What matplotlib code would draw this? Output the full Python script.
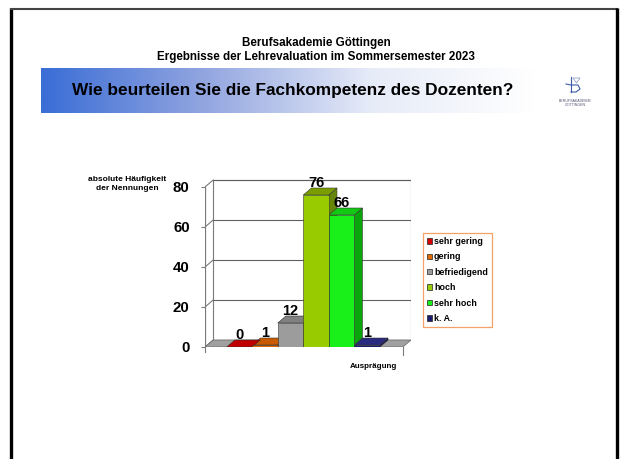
import matplotlib
matplotlib.use("Agg")
import matplotlib.pyplot as plt
from matplotlib.patches import Polygon, Rectangle
from matplotlib.colors import LinearSegmentedColormap
import numpy as np

plt.rcParams['font.family'] = ['Liberation Sans', 'DejaVu Sans']

# ---------------------------------------------------------
# Data
# ---------------------------------------------------------
categories = ["sehr gering", "gering", "befriedigend", "hoch", "sehr hoch", "k. A."]
counts = [0, 1, 12, 76, 66, 1]
y_ticks = [0, 20, 40, 60, 80]

front_colors = ["#d40000", "#e06a00", "#9c9c9c", "#99cc00", "#19f019", "#1c1c6e"]
top_colors = ["#c00000", "#c85a00", "#808080", "#7a9e00", "#12c812", "#2a2a80"]
side_colors = ["#990000", "#a04800", "#6a6a6a", "#66860a", "#0aa50a", "#10104a"]

header1 = "Berufsakademie Göttingen"
header2 = "Ergebnisse der Lehrevaluation im Sommersemester 2023"
question = "Wie beurteilen Sie die Fachkompetenz des Dozenten?"
y_label = "absolute Häufigkeit\nder Nennungen"
x_label = "Ausprägung"

W, H = 621, 459
fig = plt.figure(figsize=(W / 100, H / 100), dpi=100)
fig.patch.set_facecolor("white")

def fx(px):
    return px / W

def fy(py):
    return 1 - py / H

# ---------------------------------------------------------
# Page decoration (border, banner, logo) in pixel coordinates
# ---------------------------------------------------------
bg = fig.add_axes([0, 0, 1, 1])
bg.set_xlim(0, W)
bg.set_ylim(H, 0)
bg.axis("off")

bg.plot([11, 11], [8, H], color="black", lw=2.4, solid_capstyle="butt")
bg.plot([11, 617], [8.5, 8.5], color="#444444", lw=1.5)
bg.plot([617, 617], [8, H], color="black", lw=2.4, solid_capstyle="butt")

grad = LinearSegmentedColormap.from_list("banner", ["#3a6dd6", "#93a6e0", "#e6ebf8", "#ffffff"])
bg.imshow(np.linspace(0, 1, 256).reshape(1, -1), cmap=grad, aspect="auto",
          extent=(41, 535, 113, 68), zorder=1)

bg.text(316, 43, header1, ha="center", va="center", fontsize=8.4, fontweight="bold")
bg.text(316, 57, header2, ha="center", va="center", fontsize=8.4, fontweight="bold")
bg.text(293, 91, question, ha="center", va="center", fontsize=12.4, fontweight="bold", zorder=3)

# small logo
logo_c = "#3a5aa8"
bg.plot([571, 571], [77, 92], color=logo_c, lw=0.8)
bg.plot([566, 571, 578, 580, 576, 571], [84, 85, 85, 89, 92, 92], color=logo_c, lw=0.8)
bg.add_patch(Polygon([[573, 78], [580, 78], [576.5, 83]], closed=True, fill=False,
                     edgecolor="#8090c0", lw=0.5))
bg.text(575, 100.5, "BERUFSAKADEMIE", ha="center", va="center", fontsize=2.6, color="#555577")
bg.text(575, 105.5, "GÖTTINGEN", ha="center", va="center", fontsize=2.6, color="#555577")

# ---------------------------------------------------------
# Chart (pseudo 3D column chart)
# ---------------------------------------------------------
x0, x1 = -1.35, 6.4      # floor front extent
dx, dy = 0.32, 3.5       # depth offset
ax = fig.add_axes([fx(205), fy(347), fx(411) - fx(205), (347 - 179) / H])
ax.set_xlim(x0, x1 + dx)
ax.set_ylim(0, 84)
ax.patch.set_visible(False)
for s in ax.spines.values():
    s.set_visible(False)

wall_c = "#7a7a7a"
grid_c = "#606060"
# back wall
ax.add_patch(Rectangle((x0 + dx, dy), x1 - x0, 80, facecolor="white",
                       edgecolor=wall_c, lw=0.8, zorder=0))
for v in y_ticks[1:]:
    ax.plot([x0 + dx, x1 + dx], [v + dy, v + dy], color=grid_c, lw=0.8, zorder=0.5)
for v in y_ticks:
    ax.plot([x0, x0 + dx], [v, v + dy], color=wall_c, lw=0.8, zorder=0.5)
ax.plot([x0, x0], [0, 80], color=wall_c, lw=0.9, zorder=0.5)

# floor
ax.add_patch(Polygon([[x0, 0], [x1, 0], [x1 + dx, dy], [x0 + dx, dy]], closed=True,
                     facecolor="#a0a0a0", edgecolor="#707070", lw=0.6, zorder=0.6))
ax.plot([x0, x0], [0, -2.5], color=wall_c, lw=0.8, clip_on=False)
ax.plot([x1, x1], [0, -4], color=wall_c, lw=0.8, clip_on=False)

xs = np.arange(len(counts))
# tops and sides, right to left
for i in reversed(range(len(counts))):
    v = counts[i]
    l, r = xs[i] - 0.5, xs[i] + 0.5
    ax.add_patch(Polygon([[r, 0], [r + dx, dy], [r + dx, v + dy], [r, v]], closed=True,
                         facecolor=side_colors[i], edgecolor="#333333", lw=0.4, zorder=1))
    ax.add_patch(Polygon([[l, v], [r, v], [r + dx, v + dy], [l + dx, v + dy]], closed=True,
                         facecolor=top_colors[i], edgecolor="#333333", lw=0.4, zorder=1.1))

bars = ax.bar(xs, counts, width=1.0, color=front_colors, edgecolor="#333333",
              linewidth=0.4, zorder=2, label=None)

for i, v in enumerate(counts):
    ax.text(xs[i], v + dy + 0.6, str(v), ha="center", va="baseline",
            fontsize=10.5, fontweight="bold", zorder=3)

ax.set_xticks([])
ax.set_yticks(y_ticks)
ax.set_yticklabels([str(t) for t in y_ticks], fontsize=10.8, fontweight="bold")
ax.tick_params(axis="y", length=3, width=0.8, color=wall_c, pad=8)

fig.text(fx(127), fy(184), y_label, ha="center", va="center", fontsize=6,
         fontweight="bold", linespacing=1.3)
fig.text(fx(373), fy(367), x_label, ha="center", va="center", fontsize=5.8, fontweight="bold")

handles = [Rectangle((0, 0), 1, 1, facecolor=c, edgecolor="#222222", lw=0.5) for c in front_colors]
leg = fig.legend(handles, categories, loc="upper left",
                 bbox_to_anchor=(fx(423), fy(233)), borderaxespad=0,
                 prop={"size": 6.4, "weight": "bold"}, frameon=True, fancybox=False,
                 handlelength=0.55, handleheight=0.55, handletextpad=0.25,
                 labelspacing=0.72, borderpad=0.45)
leg.get_frame().set_edgecolor("#f08a40")
leg.get_frame().set_linewidth(0.9)

fig.savefig("out.png", dpi=100)
